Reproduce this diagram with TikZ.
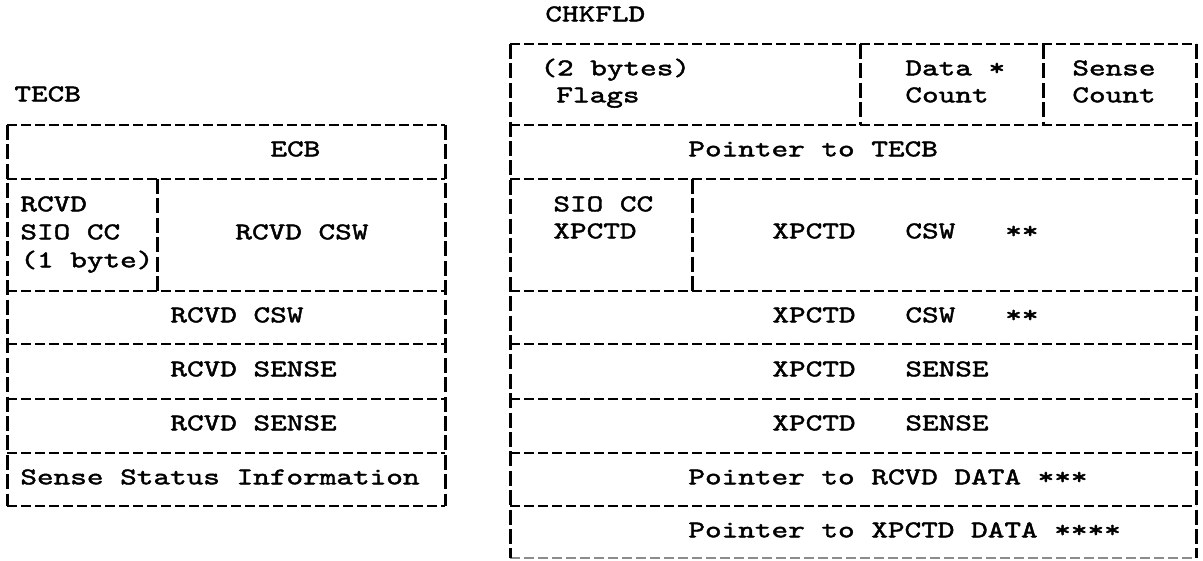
\documentclass[tikz,border=0pt]{standalone}
\usepackage{fontspec}
\newfontfamily\typer{lmmono10-regular.otf}[FakeStretch=1.32,FakeBold=1.8]

\begin{document}
\begin{tikzpicture}[x=0.5pt,y=-0.5pt,
  hrule/.style={line width=1.45pt,dash pattern=on 5pt off 2pt},
  vrule/.style={line width=1.5pt,dash pattern=on 7.5pt off 2.2pt},
  txt/.style={anchor=mid west,inner sep=0pt,font=\typer\fontsize{12}{14}\selectfont}]
  \useasboundingbox (0,0) rectangle (1203,561);

  % TECB
  \node[txt] (tecb) at (14,97) {TECB};
  \foreach \y in {125,179,291,344,399,453,506}
    \draw[hrule] (7,\y) -- (445,\y);
  \draw[vrule] (7,125) -- (7,506);
  \draw[vrule] (445,125) -- (445,506);
  \draw[vrule] (157,179) -- (157,291);

  \node[txt] (ecb) at (270,152) {ECB};
  \node[txt] (rcvd) at (20,207) {RCVD};
  \node[txt] (rsio) at (20,235) {SIO CC};
  \node[txt] (rbyte) at (20,263) {(1 byte)};
  \node[txt] (rcswa) at (235,235) {RCVD CSW};
  \node[txt] (rcswb) at (170,318) {RCVD CSW};
  \node[txt] (rsensea) at (170,372) {RCVD SENSE};
  \node[txt] (rsenseb) at (170,426) {RCVD SENSE};
  \node[txt] (rstatus) at (20,480) {Sense Status Information};

  % CHKFLD
  \node[txt] (chkfld) at (545,17) {CHKFLD};
  \foreach \y in {44,125,179,291,344,399,453,506}
    \draw[hrule] (510,\y) -- (1196,\y);
  \draw[hrule,black!45] (510,558) -- (1196,558);
  \draw[vrule] (510,44) -- (510,558);
  \draw[vrule] (1196,44) -- (1196,558);
  \draw[vrule] (860,44) -- (860,125);
  \draw[vrule] (1043,44) -- (1043,125);
  \draw[vrule] (692,179) -- (692,291);

  \node[txt] (bytes) at (540,71) {(2 bytes)};
  \node[txt] (flags) at (556,98) {Flags};
  \node[txt] (data) at (905,71) {Data *};
  \node[txt] (dcount) at (905,98) {Count};
  \node[txt] (sense) at (1072,71) {Sense};
  \node[txt] (scount) at (1072,98) {Count};
  \node[txt] (ptecb) at (688,152) {Pointer to TECB};
  \node[txt] (xsio) at (553,207) {SIO CC};
  \node[txt] (xpctd) at (553,234) {XPCTD};
  \node[txt] (xcswa) at (772,234) {XPCTD\ \ \ CSW\ \ \ **};
  \node[txt] (xcswb) at (772,318) {XPCTD\ \ \ CSW\ \ \ **};
  \node[txt] (xsensea) at (772,372) {XPCTD\ \ \ SENSE};
  \node[txt] (xsenseb) at (772,426) {XPCTD\ \ \ SENSE};
  \node[txt] (prcvd) at (688,480) {Pointer to RCVD DATA ***};
  \node[txt] (pxpctd) at (688,533) {Pointer to XPCTD DATA ****};
\end{tikzpicture}
\end{document}
